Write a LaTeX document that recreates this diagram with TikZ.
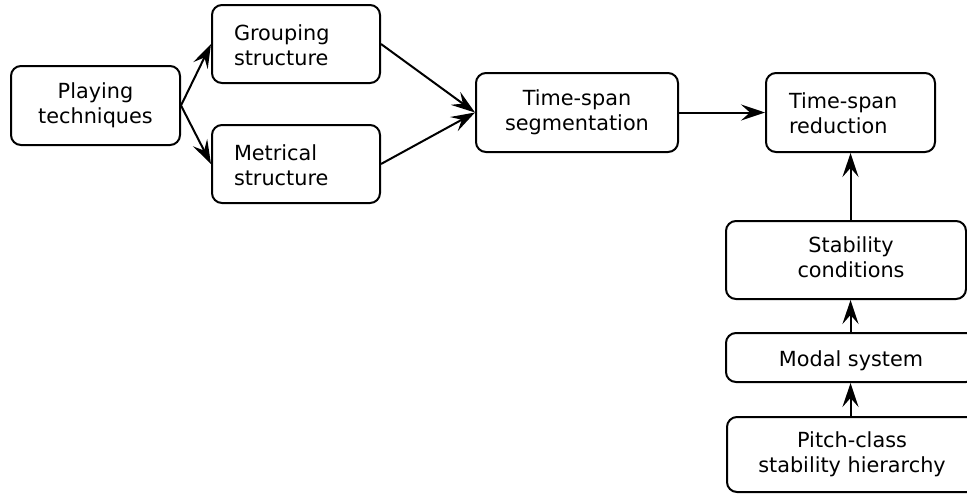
\documentclass[tikz,border=0pt]{standalone}
\usepackage{fontspec}
\setmainfont{DejaVu Sans}
\usetikzlibrary{arrows.meta,calc}

\tikzset{
  % fixed strut height/depth so that every text block sits the same way in its box
  struts/.style={execute at begin node={\rule{0pt}{22pt}},
    execute at end node={\rule[-5pt]{0pt}{5pt}}},
  stage/.style={draw, line width=2pt, rounded corners=10pt, inner sep=0pt,
    font={\fontsize{20.8pt}{25pt}\selectfont}, align=center, struts},
  leftstage/.style={stage, align=left, text width=124pt, inner xsep=22pt},
  flow/.style={line width=2pt, -{Stealth[length=24pt,width=16pt,inset=9pt]}}
}

\begin{document}
\begin{tikzpicture}[x=1pt, y=-1pt]
\useasboundingbox (0,0) rectangle (967,493);
\clip (0,0) rectangle (967,493);

% rhythm side
\node[stage, minimum width=169pt, minimum height=79pt] (play) at (95.5,105.5) {Playing\\techniques};
\node[leftstage, minimum width=168pt, minimum height=78pt] (group) at (296,44) {Grouping\\structure};
\node[leftstage, minimum width=168pt, minimum height=78pt] (metr) at (296,164) {Metrical\\structure};
\node[stage, minimum width=202pt, minimum height=79pt] (seg) at (577,112.5) {Time-span\\segmentation};
\node[leftstage, text width=123pt, inner xsep=23pt, minimum width=169pt, minimum height=79pt] (red) at (850.5,112.5) {Time-span\\reduction};

% pitch side
\node[stage, minimum width=240pt, minimum height=78pt,
  label={[name=stabtext, font={\fontsize{20.8pt}{25pt}\selectfont}, align=center, struts, inner sep=0pt, xshift=5pt]center:Stability\\conditions}]
  (stab) at (846,260) {};
\node[stage, minimum width=250pt, minimum height=49pt] (modal) at (851,357.5) {Modal system};
\node[stage, minimum width=250pt, minimum height=75pt] (pitch) at (852,454.5) {Pitch-class\\stability hierarchy};

% connectors
\draw[flow] (play.east) -- (group.west);
\draw[flow] (play.east) -- (metr.west);
\draw[flow] (group.east) -- (seg.west);
\draw[flow] (metr.east) -- (seg.west);
\draw[flow] (seg.east) -- (red.west);
\draw[flow] (stab.north -| red.south) -- (red.south);
\draw[flow] (modal.north -| red.south) -- (stab.south -| red.south);
\draw[flow] (pitch.north -| red.south) -- (modal.south -| red.south);
\end{tikzpicture}
\end{document}
